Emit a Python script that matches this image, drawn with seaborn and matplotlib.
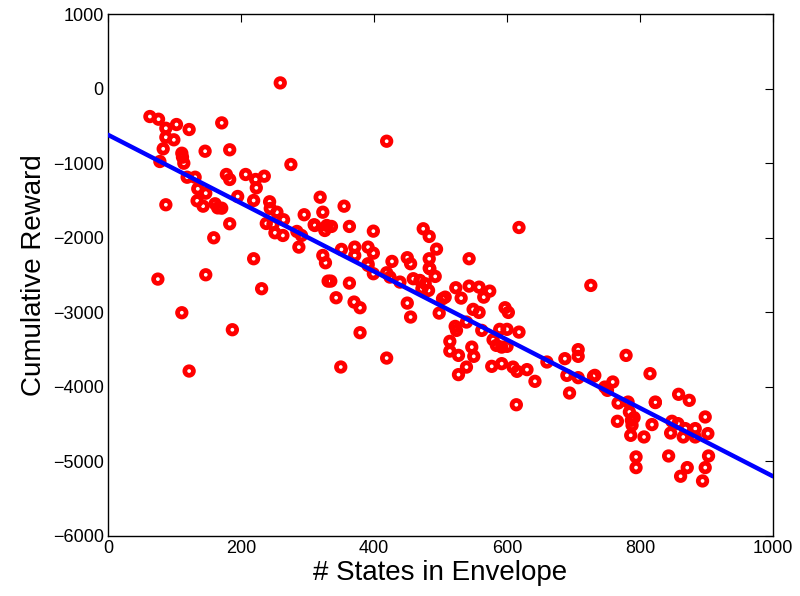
import matplotlib
matplotlib.use("Agg")
import matplotlib.pyplot as plt
import seaborn as sns
import pandas as pd

# Number of states in envelope (x) and cumulative reward (y)
states = [63, 76, 87, 103, 122, 171, 259, 87, 99, 83, 78, 111, 112, 114, 146, 183, 275,
          87, 119, 131, 135, 147, 134, 143, 161, 171, 165, 178, 183, 207, 222, 223, 235,
          195, 219, 183, 243, 244, 254, 264, 238, 248, 295, 310, 319, 323, 329,
          159, 75, 111, 147, 187, 122, 219, 231, 251, 263, 284, 291, 287, 311, 326,
          323, 327, 331,
          419, 355, 336, 363, 399, 474, 483, 494, 543, 618, 351, 371, 371, 391, 399,
          427, 450, 455, 483, 483, 391,
          391, 399, 484, 492, 335, 363, 343, 370, 379, 379, 419, 424, 439, 459, 469,
          477, 482, 472, 450, 455, 419, 350, 498, 503, 507, 523, 531, 543, 558, 565,
          574, 549, 558, 539, 522, 524, 562, 597, 602, 618, 589, 600, 579, 584, 592,
          600, 514, 514, 527, 547, 550, 539, 527, 577, 592, 609, 615, 630, 642, 660,
          614,
          726, 687, 707, 707, 779, 690, 707, 730, 732, 759, 815, 694, 747, 751, 858,
          874, 782, 823,
          767, 784, 823, 766, 787, 791, 788, 818, 786, 806, 848, 857, 846, 868, 865,
          883, 883, 898, 902, 794, 794, 843, 903, 871, 861, 898, 894]
reward = [-375, -411, -532, -482, -549, -460, 76, -653, -687, -808, -978, -867, -920,
          -1001, -840, -821, -1018,
          -1558, -1189, -1189, -1344, -1403, -1505, -1577, -1545, -1604, -1600, -1152,
          -1219, -1152, -1219, -1331, -1175,
          -1447, -1501, -1813, -1518, -1608, -1658, -1759, -1809, -1822, -1692, -1826,
          -1457, -1658, -1836,
          -2001, -2555, -3006, -2497, -3234, -3788, -2282, -2684, -1934, -1970, -1916,
          -1970, -2126, -1836, -1903, -2238, -2336, -2582,
          -706, -1577, -1849, -1849, -1912, -1880, -1983, -2153, -2282, -1863, -2157,
          -2126, -2238, -2126, -2207, -2318, -2268, -2349, -2282, -2408, -2349,
          -2372, -2483, -2416, -2519, -2582, -2609, -2805, -2863, -2939, -3274, -2470,
          -2528, -2595, -2550, -2573, -2617, -2707, -2684, -2877, -3064, -3614, -3734,
          -3011, -2818, -2797, -2671, -2810, -2649, -2663, -2797, -2716, -2961, -3002,
          -3131, -3189, -3243, -3243, -2939, -3002, -3266, -3229, -3229, -3368, -3444,
          -3467, -3457, -3390, -3520, -3578, -3467, -3591, -3735, -3836, -3725, -3689,
          -3735, -3792, -3769, -3926, -3667, -4240,
          -2640, -3622, -3501, -3591, -3578, -3846, -3877, -3859, -3846, -3935, -3823,
          -4083, -4003, -4047, -4100, -4181, -4204, -4204,
          -4217, -4337, -4211, -4462, -4449, -4412, -4515, -4506, -4650, -4672, -4462,
          -4493, -4619, -4560, -4672, -4560, -4672, -4404, -4627, -4940, -5083, -4927,
          -4927, -5083, -5199, -5083, -5262]

# Fitted trend line end points
fit_x = [0, 1000]
fit_y = [-620, -5200]

x_ticks = [0, 200, 400, 600, 800, 1000]
y_ticks = [-6000, -5000, -4000, -3000, -2000, -1000, 0, 1000]

sns.set_theme(style="white")
plt.rcParams['font.family'] = ['Liberation Sans', 'DejaVu Sans']
plt.rcParams['text.color'] = 'black'
plt.rcParams['axes.labelcolor'] = 'black'

df = pd.DataFrame({"states": states, "reward": reward})
fit = pd.DataFrame({"x": fit_x, "y": fit_y})

fig = plt.figure(figsize=(8.0, 5.96), dpi=100)
ax = fig.add_axes([0.135, 0.1007, 0.8313, 0.8758])

sns.lineplot(data=fit, x="x", y="y", ax=ax, color="#0000ff", linewidth=3.2, zorder=3)
sns.scatterplot(data=df, x="states", y="reward", ax=ax, marker="o", s=38,
                facecolor="none", edgecolor="#ff0000", linewidth=3.4, zorder=2)

ax.set_xlim(0, 1000)
ax.set_ylim(-6000, 1000)
ax.set_xticks(x_ticks)
ax.set_yticks(y_ticks)
ax.set_xticklabels([str(v) for v in x_ticks])
ax.set_yticklabels([str(v).replace("-", "\u2212") for v in y_ticks])
ax.tick_params(direction="in", length=6, width=0.8, top=True, right=True,
               labelsize=13, colors="black", pad=3)
for sp in ax.spines.values():
    sp.set_color("black")
    sp.set_linewidth(1.0)
ax.set_xlabel("# States in Envelope", fontsize=20, labelpad=2, color="black")
ax.set_ylabel("Cumulative Reward", fontsize=20, labelpad=4, color="black")
ax.grid(False)

fig.savefig("out.png", dpi=100)
